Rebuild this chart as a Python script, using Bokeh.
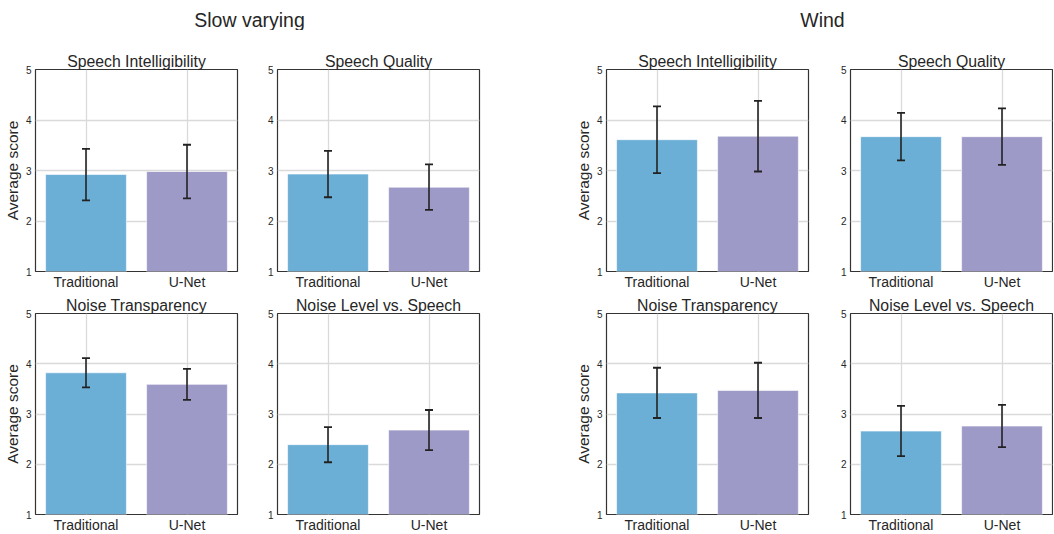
from bokeh.plotting import figure
from bokeh.layouts import column, row
from bokeh.models import ColumnDataSource, Whisker, TeeHead, FactorRange, Range1d, FixedTicker
from bokeh.embed import file_html
from bokeh.resources import INLINE
from bokeh.core.properties import value

# ---------------- data ----------------
groups = ["Slow varying", "Wind"]
metrics = ["Speech Intelligibility", "Speech Quality", "Noise Transparency", "Noise Level vs. Speech"]
methods = ["Traditional", "U-Net"]
y_ticks = [1, 2, 3, 4, 5]

# mean scores per metric (order as metrics)
slow_trad_mean = [2.92, 2.93, 3.82, 2.39]
slow_unet_mean = [2.98, 2.67, 3.59, 2.68]
slow_trad_err = [0.51, 0.46, 0.29, 0.35]
slow_unet_err = [0.53, 0.45, 0.31, 0.40]

wind_trad_mean = [3.61, 3.67, 3.42, 2.66]
wind_unet_mean = [3.68, 3.67, 3.47, 2.76]
wind_trad_err = [0.66, 0.47, 0.50, 0.50]
wind_unet_err = [0.70, 0.56, 0.55, 0.42]

colors = ["#6baed6", "#9e9ac8"]
FONT = "Liberation Sans"

FRAME_W = 202


def panel(title, trad_m, unet_m, trad_e, unet_e, left_border, right_border, ylabel,
          top_border, bottom_border, frame_h):
    means = [trad_m, unet_m]
    errs = [trad_e, unet_e]
    src = ColumnDataSource(dict(
        x=methods,
        top=means,
        lower=[m - e for m, e in zip(means, errs)],
        upper=[m + e for m, e in zip(means, errs)],
        color=colors,
    ))
    p = figure(x_range=FactorRange(*methods, range_padding=0), y_range=Range1d(1, 5),
               frame_width=FRAME_W, frame_height=frame_h,
               min_border_left=left_border, min_border_right=right_border,
               min_border_top=top_border, min_border_bottom=bottom_border,
               toolbar_location=None, output_backend="svg", title=title)
    p.title.text_font = FONT
    p.title.text_font_size = "15.8px"
    p.title.text_font_style = "normal"
    p.title.text_color = "#262626"
    p.title.align = "center"
    p.title.standoff = 0
    p.title.offset = 0

    p.vbar(x="x", top="top", bottom=1, width=0.8, source=src, fill_color="color",
           line_color="white", line_alpha=0.6, line_width=1)
    w = Whisker(source=src, base="x", lower="lower", upper="upper",
                line_color="#222222", line_width=1.6, level="overlay",
                upper_head=TeeHead(size=8, line_color="#222222", line_width=1.8),
                lower_head=TeeHead(size=8, line_color="#222222", line_width=1.8))
    p.add_layout(w)

    p.outline_line_color = "#333333"
    p.outline_line_width = 1.2
    p.background_fill_color = "white"
    p.border_fill_color = "white"

    for g in (p.xgrid, p.ygrid):
        g.grid_line_color = "#dadada"
        g.grid_line_width = 1.3
    p.ygrid.ticker = FixedTicker(ticks=y_ticks)

    p.yaxis.ticker = FixedTicker(ticks=y_ticks)
    for ax in (p.xaxis, p.yaxis):
        ax.axis_line_color = None
        ax.major_tick_line_color = None
        ax.minor_tick_line_color = None
        ax.major_tick_out = 0
        ax.major_tick_in = 0
        ax.major_label_text_font = FONT
        ax.major_label_text_color = "#262626"
    p.yaxis.major_label_text_font_size = "10px"
    p.yaxis.major_label_standoff = 4
    p.xaxis.major_label_text_font_size = "14px"
    p.xaxis.major_label_standoff = 2
    if ylabel:
        p.yaxis.axis_label = "Average score"
        p.yaxis.axis_label_text_font = FONT
        p.yaxis.axis_label_text_font_size = "15.5px"
        p.yaxis.axis_label_text_font_style = "normal"
        p.yaxis.axis_label_text_color = "#262626"
        p.yaxis.axis_label_standoff = 2
    return p


# header with group titles
HDR_W, HDR_H = 1053, 30
header = figure(width=HDR_W, height=HDR_H, x_range=Range1d(0, HDR_W), y_range=Range1d(0, HDR_H),
                toolbar_location=None, output_backend="svg",
                min_border=0, min_border_left=0, min_border_right=0,
                min_border_top=0, min_border_bottom=0)
header.axis.visible = False
header.grid.visible = False
header.outline_line_color = None
header.text(x=[249, 822], y=[11, 11], text=groups, text_align="center", text_baseline="middle",
            text_font=value(FONT), text_font_size="19.5px", text_color="#262626")

data = {
    "Slow varying": (slow_trad_mean, slow_unet_mean, slow_trad_err, slow_unet_err),
    "Wind": (wind_trad_mean, wind_unet_mean, wind_trad_err, wind_unet_err),
}

lefts = [35, 37, 124, 39]
rights = [3, 3, 3, 1]
rows = []
for r in range(2):
    figs = []
    top_b = 39 if r == 0 else 21
    bot_b = 20
    fh = 202 if r == 0 else 201
    for gi, grp in enumerate(groups):
        tm, um, te, ue = data[grp]
        for c in range(2):
            mi = r * 2 + c
            col_idx = gi * 2 + c
            figs.append(panel(metrics[mi], tm[mi], um[mi], te[mi], ue[mi],
                              lefts[col_idx], rights[col_idx], c == 0, top_b, bot_b, fh))
    rows.append(row(*figs, spacing=0))

layout = column(header, rows[0], rows[1], spacing=0)

open("out.html", "w").write(file_html(layout, INLINE))
